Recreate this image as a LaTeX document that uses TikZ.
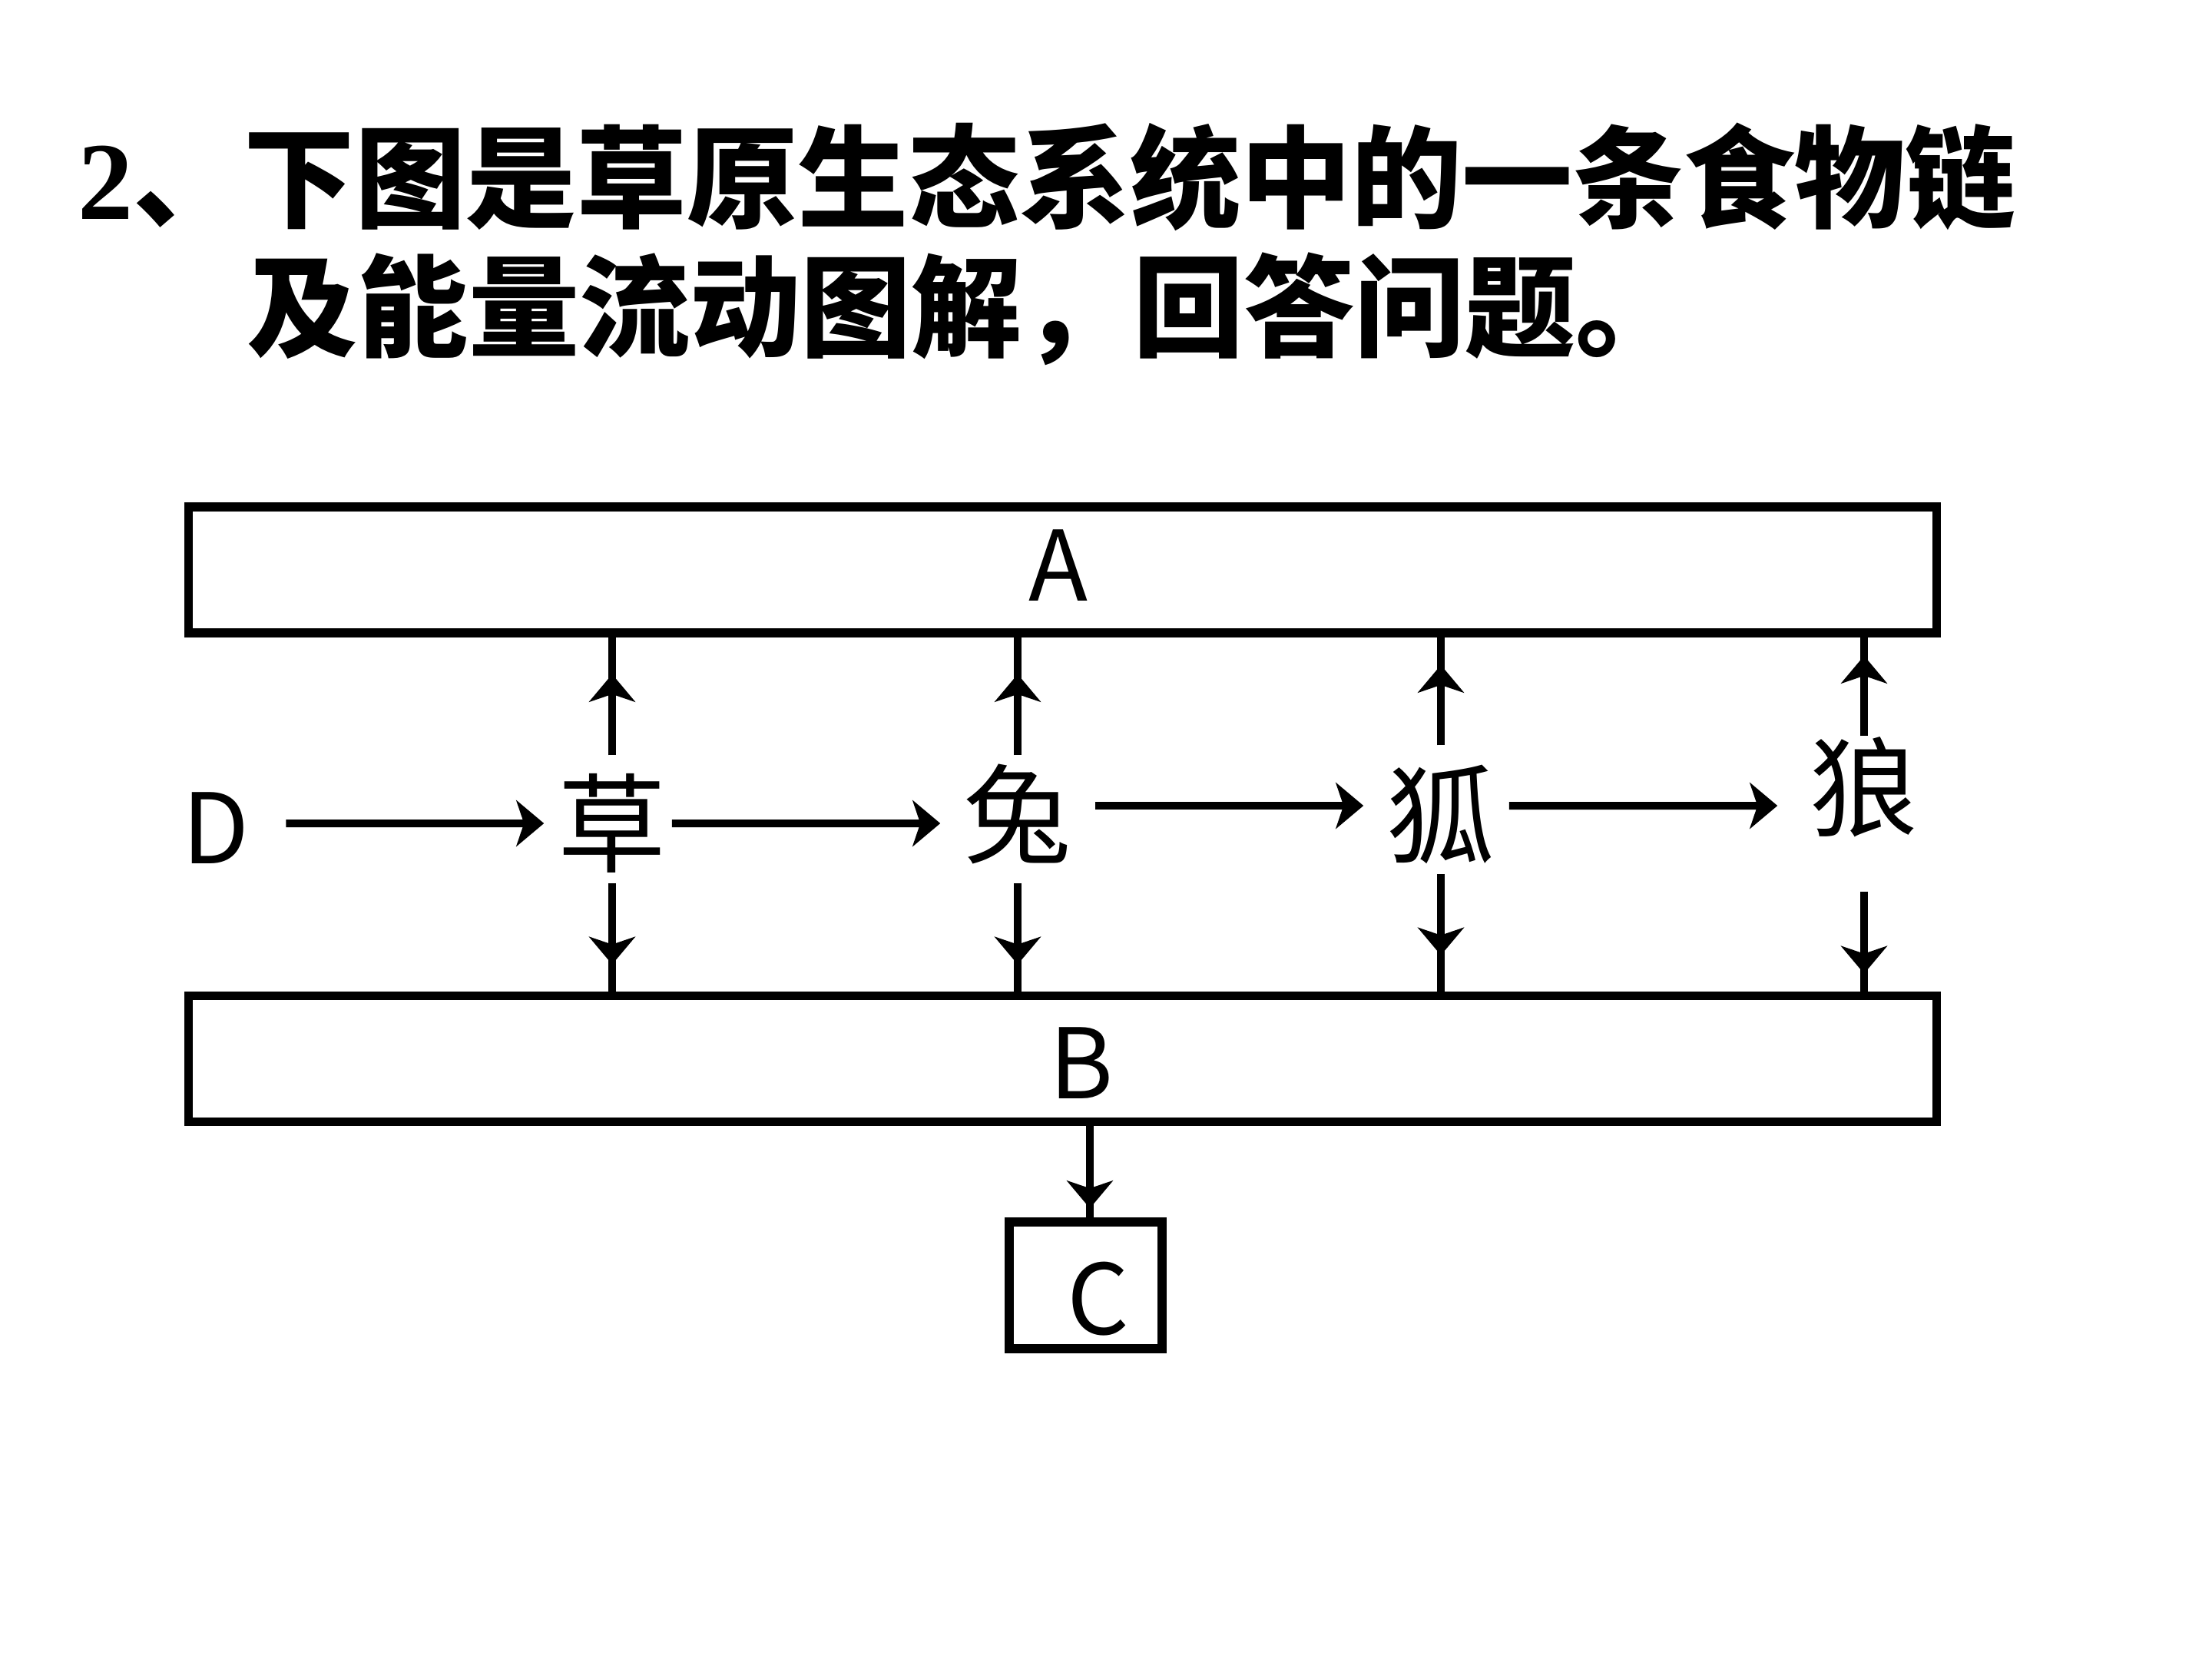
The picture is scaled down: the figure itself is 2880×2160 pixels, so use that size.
\documentclass[tikz,border=0pt]{standalone}
\usepackage{fontspec}
\setmainfont{Liberation Serif}
\newfontfamily\cjk{Noto Sans CJK SC}
\usetikzlibrary{arrows.meta,decorations.markings}
\tikzset{
  tipshape/.tip={Stealth[length=0.36cm,width=0.6cm,inset=0.1cm]},
  bigbox/.style={draw, line width=0.115cm, inner sep=0pt, minimum width=22.75cm, minimum height=1.64cm},
  smallbox/.style={draw, line width=0.115cm, inner sep=0pt, minimum width=1.99cm, minimum height=1.65cm},
  org/.style={inner sep=0pt, minimum width=1.45cm, minimum height=1.45cm, font=\cjk\fontsize{40}{40}\selectfont},
  letter/.style={inner sep=0pt, font=\cjk\fontsize{36}{36}\selectfont},
  conn/.style={line width=0.1cm},
  harrow/.style={conn, -tipshape},
  midarrow/.style={conn, postaction={decorate},
    decoration={markings, mark=at position -#1 with {\arrow{tipshape}}}},
  titletext/.style={anchor=west, inner sep=0pt, font=\fontsize{41}{41}\selectfont\bfseries},
}
\begin{document}
\begin{tikzpicture}[x=0.01cm,y=-0.01cm]
\useasboundingbox (0,0) rectangle (2880,2160);
\fill[white] (0,0) rectangle (2880,2160);

% title
\node[titletext] (t1) at (101,230) {2{\cjk 、下图是草原生态系统中的一条食物链}};
\node[titletext] (t2) at (321,402) {\cjk 及能量流动图解，回答问题。};

% boxes
\node[bigbox] (A) at (1383.5,742) {};
\node[letter] (la) at (1378,736) {A};
\node[bigbox] (B) at (1383.5,1378.5) {};
\node[letter] (lb) at (1408,1384) {B};
\node[smallbox] (C) at (1413.5,1673.5) {};
\node[letter] (lc) at (1430,1691) {C};

% organisms
\node[letter, minimum width=0.6cm] (D) at (281,1078) {D};
\node[org] (cao) at (797,1072) {草};
\node[org] (tu) at (1325,1060) {兔};
\node[org] (hu) at (1876,1060) {狐};
\node[org] (lang) at (2427,1025) {狼};

% food chain
\draw[harrow] ([xshift=0.47cm,yshift=0.06cm]D.east) -- ([xshift=-0.155cm]cao.west);
\draw[harrow] ([xshift=0.045cm]cao.east) -- ([xshift=-0.275cm,yshift=-0.12cm]tu.west);
\draw[harrow] ([xshift=0.275cm,yshift=0.11cm]tu.east) -- ([xshift=-0.275cm,yshift=0.11cm]hu.west);
\draw[harrow] ([xshift=0.155cm,yshift=0.11cm]hu.east) -- ([xshift=-0.395cm,yshift=-0.24cm]lang.west);

% to A
\draw[midarrow=0.48cm] ([yshift=0.155cm]cao.north) -- (cao.north |- A.south);
\draw[midarrow=0.48cm] ([yshift=0.035cm]tu.north) -- (tu.north |- A.south);
\draw[midarrow=0.36cm] ([yshift=0.165cm]hu.north) -- (hu.north |- A.south);
\draw[midarrow=0.24cm] ([yshift=-0.065cm]lang.north) -- (lang.north |- A.south);

% to B
\draw[midarrow=0.35cm] ([yshift=-0.045cm]cao.south) -- (cao.south |- B.north);
\draw[midarrow=0.35cm] ([yshift=-0.165cm]tu.south) -- (tu.south |- B.north);
\draw[midarrow=0.47cm] ([yshift=-0.045cm]hu.south) -- (hu.south |- B.north);
\draw[midarrow=0.23cm] ([yshift=-0.625cm]lang.south) -- (lang.south |- B.north);

% B to C
\coordinate (cx) at (1419,0);
\draw[midarrow=0.12cm] (cx |- B.south) -- (cx |- C.north);
\end{tikzpicture}
\end{document}
